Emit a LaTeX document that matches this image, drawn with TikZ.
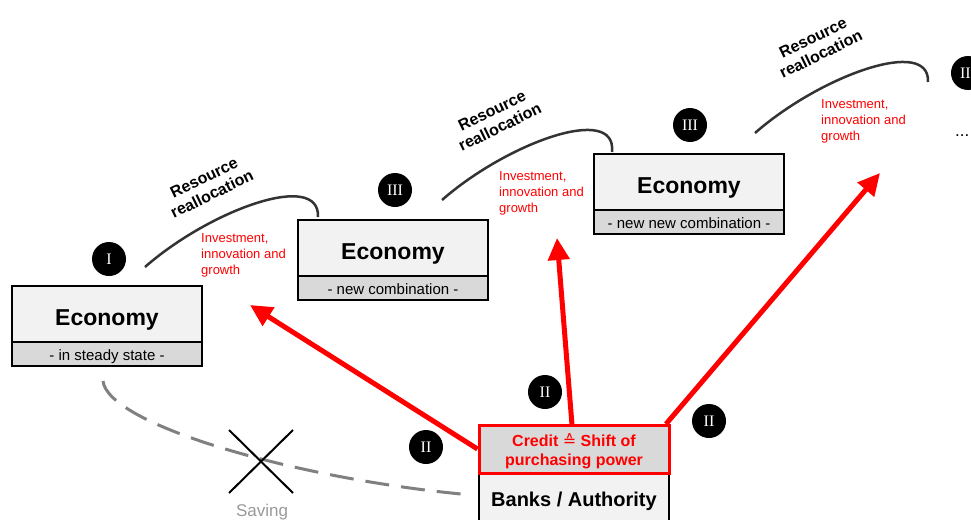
\documentclass[tikz,border=0pt]{standalone}
\usepackage{fontspec}
\setmainfont{Liberation Sans}
\newfontfamily\numfont{Liberation Serif}
\newfontfamily\symfont{DejaVu Sans}
\usetikzlibrary{arrows.meta}
\definecolor{boxtop}{HTML}{F2F2F2}
\definecolor{boxbot}{HTML}{D9D9D9}
\definecolor{redc}{HTML}{FF0000}
\definecolor{arcc}{HTML}{333333}
\definecolor{dashc}{HTML}{808080}
\definecolor{savc}{HTML}{999999}
\begin{document}
\begin{tikzpicture}[x=1pt,y=-1pt,
 econ/.style={draw=black,line width=2pt,fill=boxtop,minimum width=190pt,minimum height=56pt,inner sep=0pt,text height=22pt,text depth=0pt,font=\fontsize{23}{26}\selectfont\bfseries},
 sub/.style={draw=black,line width=2pt,fill=boxbot,minimum width=190pt,minimum height=24pt,inner sep=0pt,text height=13pt,text depth=0pt,font=\fontsize{15}{18}\selectfont},
 num/.style={circle,fill=black,minimum size=34pt,inner sep=0pt,text=white,font=\numfont\fontsize{16}{18}\selectfont},
 arcl/.style={draw=arcc,line width=2.5pt},
 rr/.style={rotate=26,align=center,inner sep=0pt,font=\fontsize{16}{18}\selectfont\bfseries},
 inv/.style={anchor=north west,align=left,text=redc,font=\fontsize{13}{16}\selectfont,inner sep=0pt},
 credit/.style={-{Triangle[length=22pt,width=21pt]},draw=redc,line width=5pt},
]
\useasboundingbox (0,0) rectangle (971,519);

% dashed saving path
\coordinate (d1) at (103,381);
\coordinate (d2) at (472,495);
\draw[dashc,line width=3pt,dash pattern=on 24pt off 12pt] (d1) .. controls (108,425) and (300,480) .. (d2);
\draw[black,line width=2pt] (229,430) -- (293,493);
\draw[black,line width=2pt] (293,430) -- (229,493);
\node[text=savc,font=\fontsize{17}{20}\selectfont] (saving) at (262,512) {Saving};

% economy boxes
\node[econ] (e1) at (107,314) {Economy};
\node[sub] (s1) at (107,354) {- in steady state -};
\node[econ] (e2) at (393,248) {Economy};
\node[sub] (s2) at (393,287.5) {- new combination -};
\node[econ] (e3) at (689,182) {Economy};
\node[sub] (s3) at (689,222) {- new new combination -};

% banks
\node[draw=black,line width=2pt,fill=boxtop,minimum width=190pt,minimum height=54pt,inner sep=0pt,text height=12pt,text depth=0pt,font=\fontsize{20}{24}\selectfont\bfseries] (banks) at (574,500) {Banks / Authority};
\node[draw=redc,line width=3pt,fill=boxbot,minimum width=190pt,minimum height=48pt,inner sep=0pt] (cr) at (574,449) {};
\node[align=center,inner sep=0pt,text=redc,font=\fontsize{16}{19.5}\selectfont\bfseries] (crt) at (574,451) {Credit {\symfont\mdseries ≙} Shift of\\purchasing power};

% resource reallocation arcs
\coordinate (a1s) at (145,267); \coordinate (a1e) at (318,217);
\coordinate (a2s) at (442,200); \coordinate (a2e) at (612,152);
\coordinate (a3s) at (755,133); \coordinate (a3e) at (928,82);
\draw[arcl] (a1s) .. controls (210,210) and (320,170) .. (a1e);
\draw[arcl] (a2s) .. controls (507,143) and (617,103) .. (a2e);
\draw[arcl] (a3s) .. controls (820,76) and (930,36) .. (a3e);
\node[rr] (r1) at (208,186) {Resource\\reallocation};
\node[rr] (r2) at (496,119) {Resource\\reallocation};
\node[rr] (r3) at (817,46) {Resource\\reallocation};

\node[inv] (i1) at (201,233) {Investment,\\innovation and\\growth};
\node[inv] (i2) at (499,171) {Investment,\\innovation and\\growth};
\node[inv] (i3) at (821,99) {Investment,\\innovation and\\growth};

% credit arrows
\coordinate (t1) at (250,305);
\coordinate (t2) at (557,238);
\coordinate (t3) at (880,173);
\coordinate (c2) at (572,425);
\coordinate (c3) at (666,424);
\draw[credit] (cr.west) -- (t1);
\draw[credit] (c2) -- (t2);
\draw[credit] (c3) -- (t3);

% numbered circles
\node[num] (n1) at (109,259) {I};
\node[num] (n3a) at (395,190) {III};
\node[num] (n3b) at (690,125) {III};
\node[num] (n3c) at (968,73) {III};
\node[num] (n2a) at (426,447) {II};
\node[num] (n2b) at (545,392) {II};
\node[num] (n2c) at (709,421) {II};

\node[anchor=base west,inner sep=0pt,font=\fontsize{17}{18}\selectfont] (dots) at (955,136) {...};
\end{tikzpicture}
\end{document}
